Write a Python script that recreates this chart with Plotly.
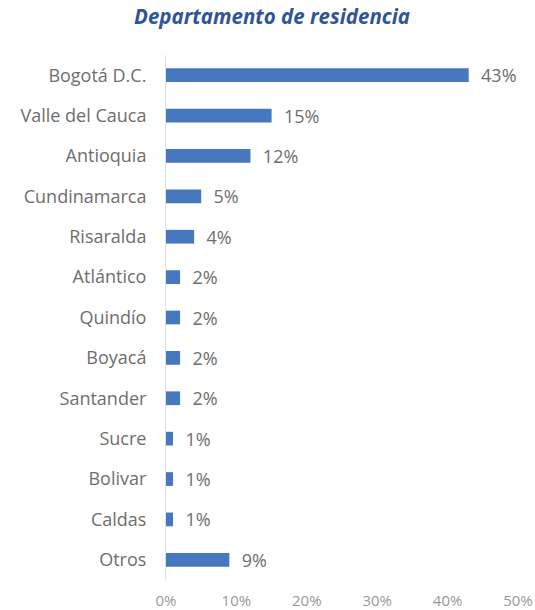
import plotly.graph_objects as go

# Departamentos de residencia (porcentaje de encuestados)
departamentos = [
    "Bogotá D.C.", "Valle del Cauca", "Antioquia", "Cundinamarca", "Risaralda",
    "Atlántico", "Quindío", "Boyacá", "Santander", "Sucre", "Bolivar", "Caldas", "Otros",
]
porcentajes = [43, 15, 12, 5, 4, 2, 2, 2, 2, 1, 1, 1, 9]
ticks_x = [0, 10, 20, 30, 40, 50]
ticks_x_texto = ["0%", "10%", "20%", "30%", "40%", "50%"]

fuente = "'Open Sans', sans-serif"

fig = go.Figure(
    go.Bar(
        x=porcentajes,
        y=departamentos,
        orientation="h",
        marker=dict(color="#4677BF", line=dict(width=0)),
        text=["\u00a0\u00a0" + f"{v}%" for v in porcentajes],
        textposition="outside",
        constraintext="none",
        cliponaxis=False,
        textfont=dict(family=fuente, size=18, color="#6E6E6E"),
    )
)

fig.update_layout(
    width=535,
    height=610,
    margin=dict(l=166, r=17, t=55, b=30),
    paper_bgcolor="white",
    plot_bgcolor="white",
    bargap=0.66,
    showlegend=False,
    title=dict(
        text="<b><i>Departamento de residencia</i></b>",
        x=272 / 535,
        xanchor="center",
        y=1 - 17 / 610,
        yanchor="middle",
        font=dict(family=fuente, size=20.5, color="#2F5597"),
    ),
    xaxis=dict(
        range=[0, 50],
        tickvals=ticks_x,
        ticktext=ticks_x_texto,
        showgrid=False,
        zeroline=False,
        showline=False,
        ticks="",
        ticklabelstandoff=10,
        automargin=False,
        tickfont=dict(family=fuente, size=15, color="#999999"),
    ),
    yaxis=dict(
        categoryorder="array",
        categoryarray=departamentos[::-1],
        autorange=True,
        showgrid=False,
        zeroline=False,
        showline=True,
        linecolor="#DCE3EE",
        linewidth=1,
        ticks="outside",
        ticklen=15,
        tickcolor="rgba(0,0,0,0)",
        automargin=False,
        tickfont=dict(family=fuente, size=18, color="#6E6E6E"),
    ),
)

fig.write_html("out.html")
